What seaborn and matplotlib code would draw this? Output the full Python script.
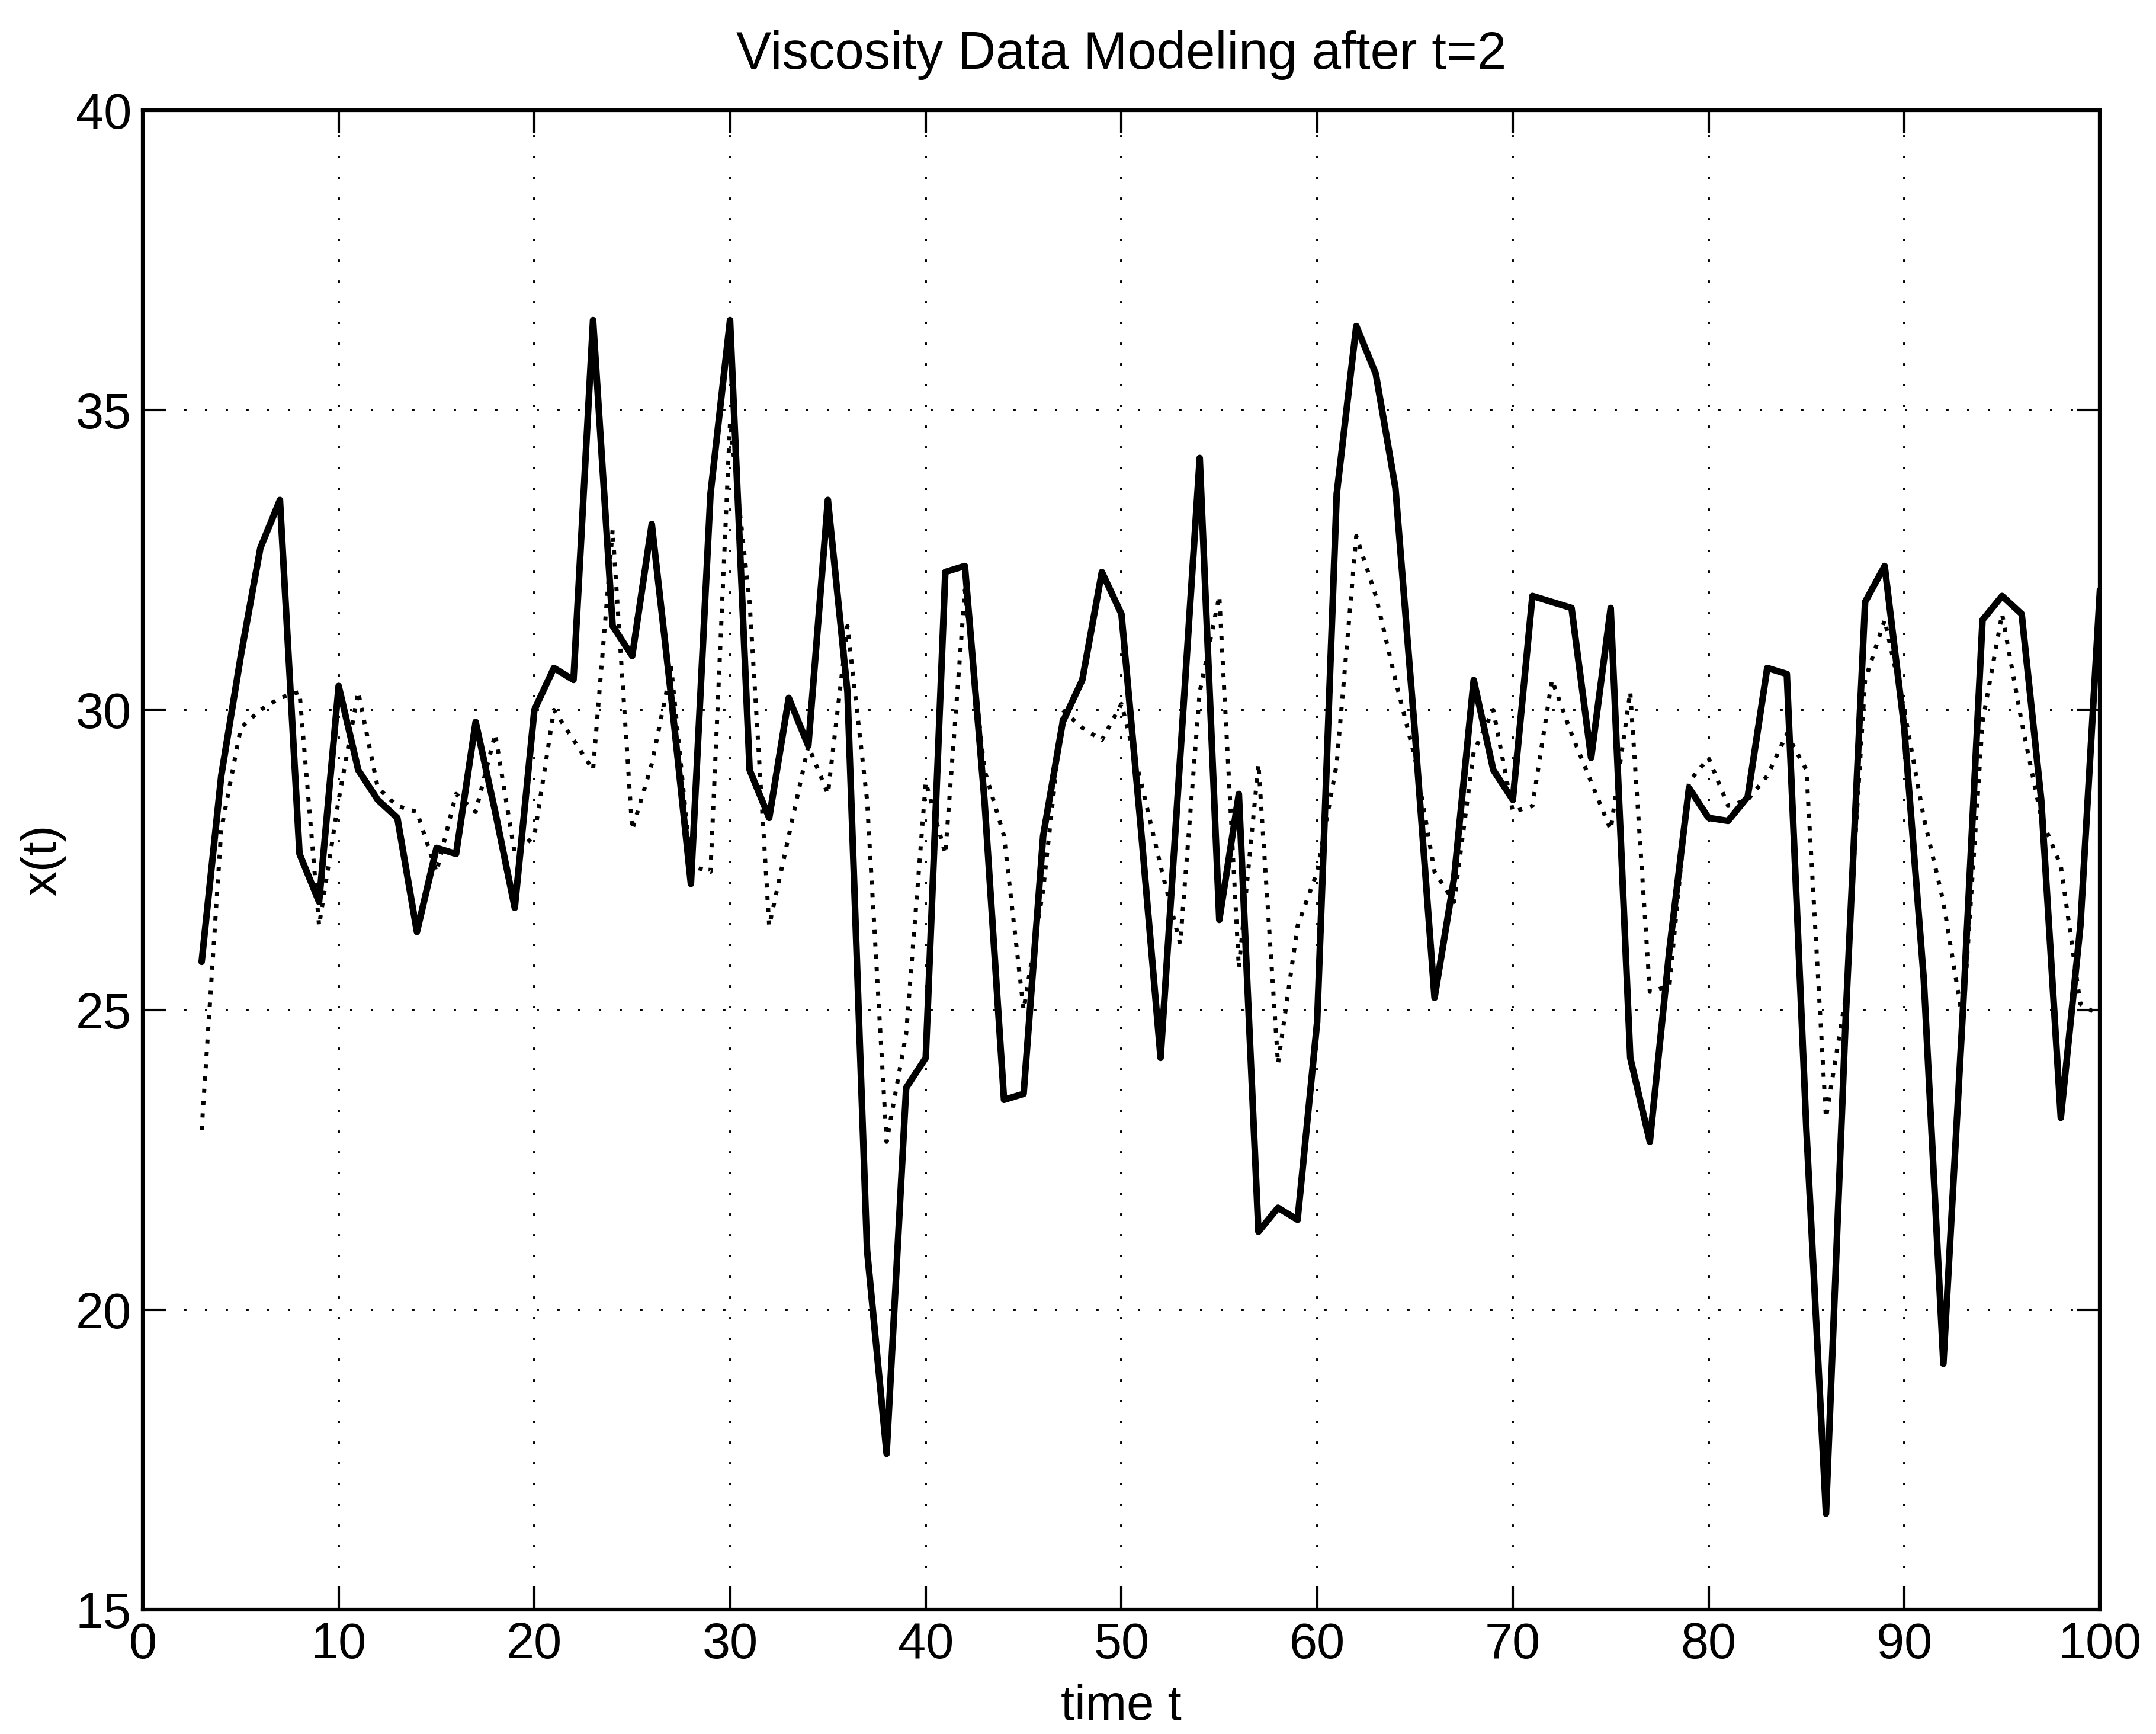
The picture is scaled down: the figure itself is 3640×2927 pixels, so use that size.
import numpy as np
import pandas as pd
import matplotlib
matplotlib.use("Agg")
import matplotlib.pyplot as plt
import seaborn as sns

# time axis of the modelled viscosity record
time_t = list(range(3, 101))

# measured viscosity x(t)
measured = [
    25.8, 28.9, 30.9, 32.7, 33.5, 27.6, 26.8, 30.4, 29.0, 28.5,
    28.2, 26.3, 27.7, 27.6, 29.8, 28.3, 26.7, 30.0, 30.7, 30.5,
    36.5, 31.4, 30.9, 33.1, 30.2, 27.1, 33.6, 36.5, 29.0, 28.2,
    30.2, 29.4, 33.5, 30.3, 21.0, 17.6, 23.7, 24.2, 32.3, 32.4,
    28.5, 23.5, 23.6, 27.9, 29.8, 30.5, 32.3, 31.6, 28.0, 24.2,
    29.2, 34.2, 26.5, 28.6, 21.3, 21.7, 21.5, 24.8, 33.6, 36.4,
    35.6, 33.7, 29.6, 25.2, 27.2, 30.5, 29.0, 28.5, 31.9, 31.8,
    31.7, 29.2, 31.7, 24.2, 22.8, 26.0, 28.7, 28.2, 28.15, 28.55,
    30.7, 30.6, 23.0, 16.6, 24.8, 31.8, 32.4, 29.7, 25.5, 19.1,
    25.0, 31.5, 31.9, 31.6, 28.5, 23.2, 26.4, 32.0,
]

# model output for x(t)
modelled = [
    23.0, 28.0, 29.7, 30.0, 30.2, 30.3, 26.4, 28.5, 30.3, 28.7,
    28.4, 28.3, 27.3, 28.6, 28.3, 29.6, 27.6, 27.9, 30.0, 29.5,
    29.0, 33.0, 28.0, 29.1, 30.7, 27.4, 27.3, 34.8, 31.8, 26.4,
    27.9, 29.4, 28.6, 31.4, 28.5, 22.8, 24.6, 28.8, 27.6, 32.0,
    29.0, 27.9, 25.0, 27.0, 30.0, 29.7, 29.5, 30.1, 28.8, 27.4,
    26.1, 30.3, 31.9, 25.7, 29.1, 24.1, 26.4, 27.3, 29.1, 32.9,
    31.9, 30.5, 29.2, 27.3, 26.8, 29.3, 30.0, 28.3, 28.4, 30.5,
    29.6, 28.8, 28.0, 30.3, 25.3, 25.4, 28.8, 29.2, 28.4, 28.5,
    28.9, 29.6, 29.0, 23.2, 25.2, 30.5, 31.5, 30.0, 28.2, 26.8,
    24.8, 29.8, 31.6, 29.8, 28.2, 27.4, 25.1, 24.9,
]

x_ticks = [0, 10, 20, 30, 40, 50, 60, 70, 80, 90, 100]
y_ticks = [15, 20, 25, 30, 35, 40]

df = pd.DataFrame({"t": time_t, "measured": measured, "modelled": modelled})

sns.set_theme(style="ticks")
plt.rcParams["font.family"] = ["Liberation Sans", "DejaVu Sans"]

fig = plt.figure(figsize=(36.4, 29.27), dpi=100)
ax = fig.add_axes([0.0663, 0.0717, 0.9077, 0.8648])

sns.lineplot(data=df, x="t", y="measured", ax=ax, color="black",
             linewidth=8, estimator=None, sort=False)
sns.lineplot(data=df, x="t", y="modelled", ax=ax, color="black",
             linewidth=5, linestyle=(0, (1, 2.0)), estimator=None, sort=False)

ax.set_xlim(0, 100)
ax.set_ylim(15, 40)
ax.set_xticks(x_ticks)
ax.set_yticks(y_ticks)
ax.set_xticklabels([str(v) for v in x_ticks])
ax.set_yticklabels([str(v) for v in y_ticks])

ax.grid(True, color="black", linewidth=2.8, linestyle=(0, (1, 8.0)))
ax.set_axisbelow(True)

for side in ["top", "right", "bottom", "left"]:
    ax.spines[side].set_visible(True)
    ax.spines[side].set_linewidth(4.5)
    ax.spines[side].set_color("black")

ax.tick_params(axis="both", which="major", direction="in", length=28, width=3,
               top=True, right=True, labelsize=61, colors="black", pad=14)

ax.set_xlabel("time t", fontsize=60, labelpad=18, color="black")
ax.set_ylabel("x(t)", fontsize=60, labelpad=12, color="black")
ax.set_title("Viscosity Data Modeling after t=2", fontsize=64, pad=50, color="black")

fig.savefig("out.png", dpi=100, facecolor="white")
